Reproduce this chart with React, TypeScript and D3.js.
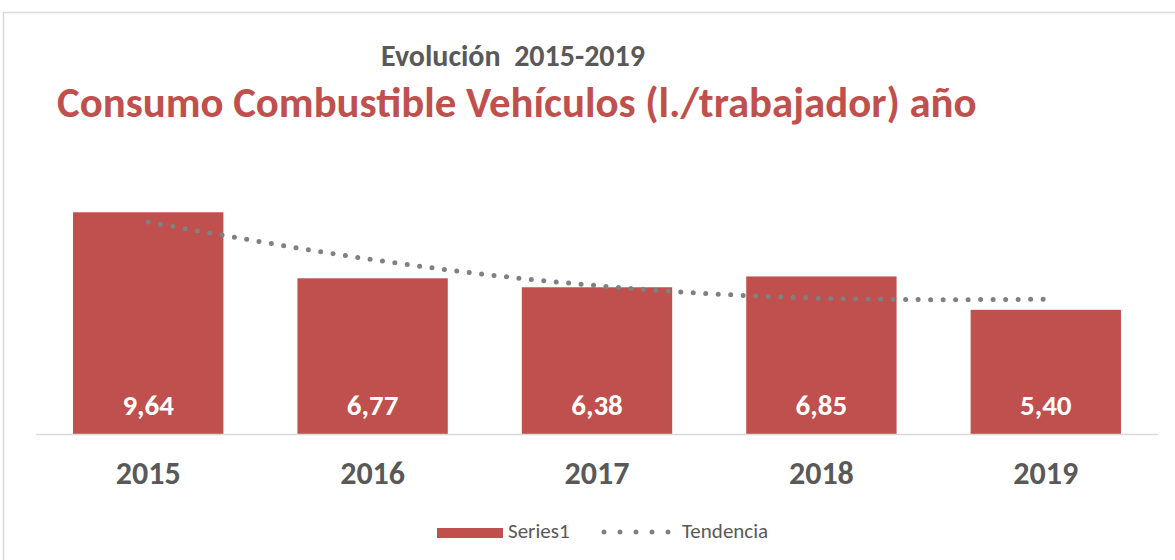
import React from 'react'
import { scaleBand, scaleLinear, line, curveNatural } from 'd3'

const WIDTH = 1175
const HEIGHT = 560

const years = ['2015', '2016', '2017', '2018', '2019']
const consumo = [9.64, 6.77, 6.38, 6.85, 5.4]
// trend values at each year
const tendencia = [9.22, 7.58, 6.45, 5.9, 5.86]
const legendLabels = ['Series1', 'Tendencia']

const RED = '#C0504D'
const GRAY = '#595959'
const TREND = '#808080'
const FONT = "Carlito, 'Open Sans', sans-serif"

const BASE_Y = 434
const TOP_Y = 158

const fmt = (v: number) => v.toFixed(2).replace('.', ',')

const App = () => {
  const xScale = scaleBand<string>().domain(years).range([36, 1158]).paddingInner(0.33).paddingOuter(0.165)
  const yScale = scaleLinear().domain([0, 12]).range([BASE_Y, TOP_Y])
  const cx = (y: string) => (xScale(y) || 0) + xScale.bandwidth() / 2

  const trendPath = line<number>()
    .x((d, i) => cx(years[i]))
    .y(d => yScale(d))
    .curve(curveNatural)

  return (
    <svg width={WIDTH} height={HEIGHT} style={{ position: 'absolute', left: 0, top: 0, background: 'white' }}>
      <path d={`M3.5,${HEIGHT} V12.5 H${WIDTH}`} fill="none" stroke="#d9d9d9" strokeWidth={1.5} />

      <text x={513} y={66} textAnchor="middle" fontFamily={FONT} fontWeight="bold" fontSize={30} fill={GRAY}
        style={{ whiteSpace: 'pre' }}>
        {'Evolución  2015-2019'}
      </text>
      <text x={57} y={117} fontFamily={FONT} fontWeight="bold" fontSize={42.8} fill={RED}>
        Consumo Combustible Vehículos (l./trabajador) año
      </text>

      <g data-bars>
        {consumo.map((v, i) => (
          <rect key={years[i]} x={xScale(years[i])} y={yScale(v)} width={xScale.bandwidth()}
            height={BASE_Y - yScale(v)} fill={RED} />
        ))}
      </g>

      <line x1={36} x2={1158} y1={BASE_Y + 0.5} y2={BASE_Y + 0.5} stroke="#d9d9d9" strokeWidth={1.5} />

      <g data-values>
        {consumo.map((v, i) => (
          <text key={years[i]} x={cx(years[i])} y={415} textAnchor="middle" fontFamily={FONT}
            fontWeight="bold" fontSize={29} fill="white">{fmt(v)}</text>
        ))}
      </g>

      <path d={trendPath(tendencia) || ''} fill="none" stroke={TREND} strokeWidth={5}
        strokeLinecap="round" strokeDasharray="0 12.5" />

      <g data-x-axis>
        {years.map(y => (
          <text key={y} x={cx(y)} y={484} textAnchor="middle" fontFamily={FONT} fontWeight="bold"
            fontSize={32} fill={GRAY}>{y}</text>
        ))}
      </g>

      <g data-legend fontFamily={FONT} fontSize={21} fill={GRAY}>
        <rect x={437} y={528} width={66} height={10} fill={RED} />
        <text x={508} y={538}>{legendLabels[0]}</text>
        <line x1={604} x2={669} y1={532} y2={532} stroke={TREND} strokeWidth={5}
          strokeLinecap="round" strokeDasharray="0 16" />
        <text x={682} y={538}>{legendLabels[1]}</text>
      </g>
    </svg>
  )
}

export default App
